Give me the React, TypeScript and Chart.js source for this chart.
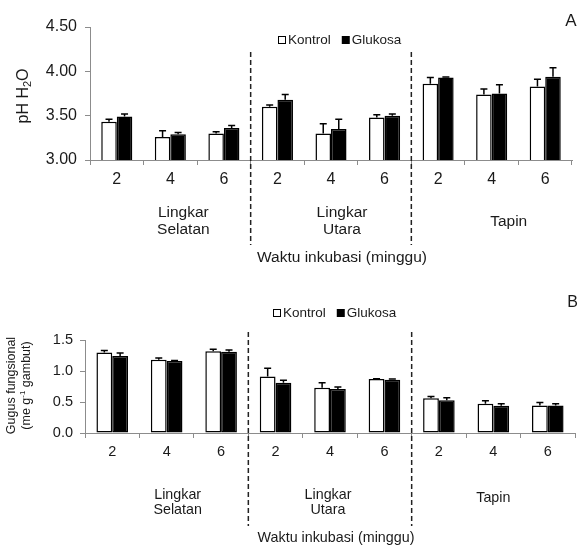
import React, { useEffect, useRef } from 'react';
import { Chart, registerables } from 'chart.js';

Chart.register(...registerables);

const FONT = '"Liberation Sans", Arial, Helvetica, sans-serif';
const TEXT = '#1a1a1a';
const AXIS = '#8c8c8c';

// ---------- data ----------
const weekLabels = ['2', '4', '6', '2', '4', '6', '2', '4', '6'];
const siteLabels = [['Lingkar', 'Selatan'], ['Lingkar', 'Utara'], ['Tapin']];
const seriesNames = ['Kontrol', 'Glukosa'];
const xAxisTitle = 'Waktu inkubasi (minggu)';

// Panel A: pH H2O
const phKontrol = [3.43, 3.26, 3.30, 3.60, 3.30, 3.48, 3.86, 3.74, 3.83];
const phKontrolErr = [0.03, 0.07, 0.02, 0.02, 0.11, 0.03, 0.07, 0.06, 0.08];
const phGlukosa = [3.49, 3.29, 3.36, 3.68, 3.35, 3.50, 3.93, 3.75, 3.94];
const phGlukosaErr = [0.03, 0.02, 0.03, 0.06, 0.11, 0.02, 0.005, 0.10, 0.10];
const phTicks = [3.0, 3.5, 4.0, 4.5];

// Panel B: Gugus fungsional (me g-1 gambut)
const gfKontrol = [1.30, 1.18, 1.32, 0.91, 0.73, 0.87, 0.56, 0.47, 0.445];
const gfKontrolErr = [0.03, 0.03, 0.03, 0.135, 0.08, 0.005, 0.03, 0.05, 0.045];
const gfGlukosa = [1.24, 1.16, 1.31, 0.81, 0.71, 0.86, 0.53, 0.44, 0.445];
const gfGlukosaErr = [0.05, 0.01, 0.03, 0.04, 0.03, 0.01, 0.04, 0.03, 0.025];
const gfTicks = [0.0, 0.5, 1.0, 1.5];

type Part = { text: string; size: number; dy?: number; w?: number };

function drawRich(ctx: CanvasRenderingContext2D, parts: Part[], cx: number, cy: number) {
  let total = 0;
  parts.forEach((p) => {
    ctx.font = `${p.size}px ${FONT}`;
    p.w = ctx.measureText(p.text).width;
    total += p.w;
  });
  let x = cx - total / 2;
  ctx.textAlign = 'left';
  ctx.textBaseline = 'middle';
  parts.forEach((p) => {
    ctx.font = `${p.size}px ${FONT}`;
    ctx.fillText(p.text, x, cy + (p.dy || 0));
    x += p.w || 0;
  });
}

const extrasPlugin = {
  id: 'extras',
  afterDatasetsDraw(chart: any) {
    const ctx: CanvasRenderingContext2D = chart.ctx;
    const ys = chart.scales.y;
    ctx.save();
    ctx.strokeStyle = '#000';
    ctx.lineWidth = 1.5;
    chart.data.datasets.forEach((ds: any, i: number) => {
      const meta = chart.getDatasetMeta(i);
      meta.data.forEach((el: any, j: number) => {
        const v = ds.data[j];
        const e = ds.errors[j];
        const yT = ys.getPixelForValue(v + e);
        ctx.beginPath();
        ctx.moveTo(el.x, el.y);
        ctx.lineTo(el.x, yT);
        ctx.moveTo(el.x - 3.5, yT);
        ctx.lineTo(el.x + 3.5, yT);
        ctx.stroke();
      });
    });
    ctx.restore();
  },
  afterDraw(chart: any, _args: any, o: any) {
    const ctx: CanvasRenderingContext2D = chart.ctx;
    const xs = chart.scales.x;
    const area = chart.chartArea;
    ctx.save();

    // dashed dividers between site groups
    ctx.strokeStyle = '#222';
    ctx.lineWidth = 1.5;
    ctx.setLineDash([5, 3]);
    for (let g = 1; g < siteLabels.length; g++) {
      const xb = (xs.getPixelForValue(g * 3 - 1) + xs.getPixelForValue(g * 3)) / 2;
      ctx.beginPath();
      ctx.moveTo(xb, o.divTop);
      ctx.lineTo(xb, o.divBottom);
      ctx.stroke();
    }
    ctx.setLineDash([]);

    // site group labels
    ctx.fillStyle = TEXT;
    ctx.textAlign = 'center';
    ctx.textBaseline = 'middle';
    ctx.font = `${o.groupSize}px ${FONT}`;
    siteLabels.forEach((lines, g) => {
      const xc = xs.getPixelForValue(g * 3 + 1) + o.groupDx[g];
      if (lines.length === 1) {
        ctx.fillText(lines[0], xc, o.groupSingleY);
      } else {
        lines.forEach((t, k) => ctx.fillText(t, xc, o.groupLineY[k]));
      }
    });

    // x axis title
    ctx.font = `${o.groupSize}px ${FONT}`;
    ctx.fillText(xAxisTitle, o.xTitleX, o.xTitleY);

    // legend
    ctx.font = `${o.legendSize}px ${FONT}`;
    const box = 8;
    let lx = o.legendX;
    seriesNames.forEach((name, i) => {
      const ly = o.legendY;
      if (i === 0) {
        ctx.fillStyle = '#fff';
        ctx.fillRect(lx, ly - box / 2, box, box);
        ctx.strokeStyle = '#000';
        ctx.lineWidth = 1;
        ctx.strokeRect(lx + 0.5, ly - box / 2 + 0.5, box - 1, box - 1);
      } else {
        ctx.fillStyle = '#000';
        ctx.fillRect(lx, ly - box / 2, box, box);
      }
      lx += box + 2;
      ctx.fillStyle = TEXT;
      ctx.textAlign = 'left';
      ctx.fillText(name, lx, ly);
      lx += ctx.measureText(name).width + 11;
    });

    // panel letter
    ctx.textAlign = 'center';
    ctx.font = `${o.letterSize}px ${FONT}`;
    ctx.fillText(o.letter, o.letterX, o.letterY);

    // y title (rotated)
    o.yTitle.forEach((line: any) => {
      ctx.save();
      ctx.translate(line.x, o.yTitleY);
      ctx.rotate(-Math.PI / 2);
      ctx.fillStyle = TEXT;
      drawRich(ctx, line.parts.map((p: Part) => ({ ...p })), 0, 0);
      ctx.restore();
    });

    ctx.restore();
    void area;
  },
};

function buildConfig(p: any) {
  return {
    type: 'bar',
    data: {
      labels: weekLabels,
      datasets: [
        {
          label: seriesNames[0],
          data: p.k,
          errors: p.ke,
          backgroundColor: '#ffffff',
          borderColor: '#000000',
          borderWidth: 1.5,
          borderSkipped: false,
        },
        {
          label: seriesNames[1],
          data: p.g,
          errors: p.ge,
          backgroundColor: '#000000',
          borderColor: '#000000',
          borderWidth: 1.5,
          borderSkipped: false,
        },
      ],
    },
    options: {
      responsive: false,
      animation: false,
      devicePixelRatio: 1,
      layout: { padding: { top: p.padTop, right: p.padRight, left: 0, bottom: 0 } },
      datasets: { bar: { categoryPercentage: 0.58, barPercentage: 1 } },
      plugins: {
        legend: { display: false },
        tooltip: { enabled: false },
        extras: p.extras,
      },
      scales: {
        x: {
          grid: {
            display: true,
            drawOnChartArea: false,
            drawTicks: true,
            tickLength: 5,
            color: AXIS,
            offset: true,
          },
          border: { color: AXIS, width: 1 },
          ticks: {
            color: TEXT,
            font: { family: FONT, size: p.tickSize },
            padding: 5,
            maxRotation: 0,
            autoSkip: false,
          },
          afterFit: (s: any) => {
            s.height = p.xHeight;
          },
        },
        y: {
          min: p.ticks[0],
          max: p.ticks[p.ticks.length - 1],
          grid: {
            display: true,
            drawOnChartArea: false,
            drawTicks: true,
            tickLength: 5,
            color: AXIS,
          },
          border: { color: AXIS, width: 1 },
          ticks: {
            color: TEXT,
            font: { family: FONT, size: p.tickSize },
            padding: p.yPad,
            callback: (v: any) => Number(v).toFixed(p.decimals),
          },
          afterBuildTicks: (s: any) => {
            s.ticks = p.ticks.map((v: number) => ({ value: v }));
          },
          afterFit: (s: any) => {
            s.width = p.yWidth;
          },
        },
      },
    },
    plugins: [extrasPlugin],
  };
}

const configA = () =>
  buildConfig({
    k: phKontrol,
    ke: phKontrolErr,
    g: phGlukosa,
    ge: phGlukosaErr,
    ticks: phTicks,
    decimals: 2,
    padTop: 27,
    padRight: 9,
    xHeight: 113,
    yWidth: 90,
    yPad: 8,
    tickSize: 16,
    extras: {
      divTop: 52,
      divBottom: 245,
      groupSize: 15.5,
      groupDx: [13, 11, 17],
      groupLineY: [213, 230],
      groupSingleY: 221.5,
      xTitleX: 342,
      xTitleY: 258,
      legendX: 278,
      legendY: 40,
      legendSize: 13.5,
      letter: 'A',
      letterX: 571,
      letterY: 21,
      letterSize: 17,
      yTitleY: 96,
      yTitle: [
        {
          x: 24,
          parts: [
            { text: 'pH H', size: 16 },
            { text: '2', size: 11, dy: 4 },
            { text: 'O', size: 16 },
          ],
        },
      ],
    },
  });

const configB = () =>
  buildConfig({
    k: gfKontrol,
    ke: gfKontrolErr,
    g: gfGlukosa,
    ge: gfGlukosaErr,
    ticks: gfTicks,
    decimals: 1,
    padTop: 67,
    padRight: 6,
    xHeight: 114,
    yWidth: 85,
    yPad: 7,
    tickSize: 14.5,
    extras: {
      divTop: 59,
      divBottom: 253,
      groupSize: 14.3,
      groupDx: [11, -2, 0],
      groupLineY: [222, 237],
      groupSingleY: 225,
      xTitleX: 336,
      xTitleY: 265,
      legendX: 273,
      legendY: 40,
      legendSize: 13.5,
      letter: 'B',
      letterX: 572.5,
      letterY: 29.5,
      letterSize: 16,
      yTitleY: 112.5,
      yTitle: [
        { x: 12, parts: [{ text: 'Gugus fungsional', size: 12.5 }] },
        {
          x: 27,
          parts: [
            { text: '(me g', size: 12.5 },
            { text: '-1', size: 8, dy: -4 },
            { text: ' gambut)', size: 12.5 },
          ],
        },
      ],
    },
  });

function Panel({ make, top, height }: { make: () => any; top: number; height: number }) {
  const ref = useRef<HTMLCanvasElement | null>(null);
  useEffect(() => {
    if (!ref.current) return;
    const chart = new Chart(ref.current, make());
    return () => chart.destroy();
  }, [make]);
  return (
    <canvas
      ref={ref}
      width={581}
      height={height}
      style={{ position: 'absolute', left: 0, top, width: 581, height, display: 'block' }}
    />
  );
}

export default function App() {
  return (
    <div
      style={{
        position: 'absolute',
        left: 0,
        top: 0,
        width: 581,
        height: 547,
        background: '#fff',
        overflow: 'hidden',
      }}
    >
      <Panel make={configA} top={0} height={273} />
      <Panel make={configB} top={273} height={274} />
    </div>
  );
}
